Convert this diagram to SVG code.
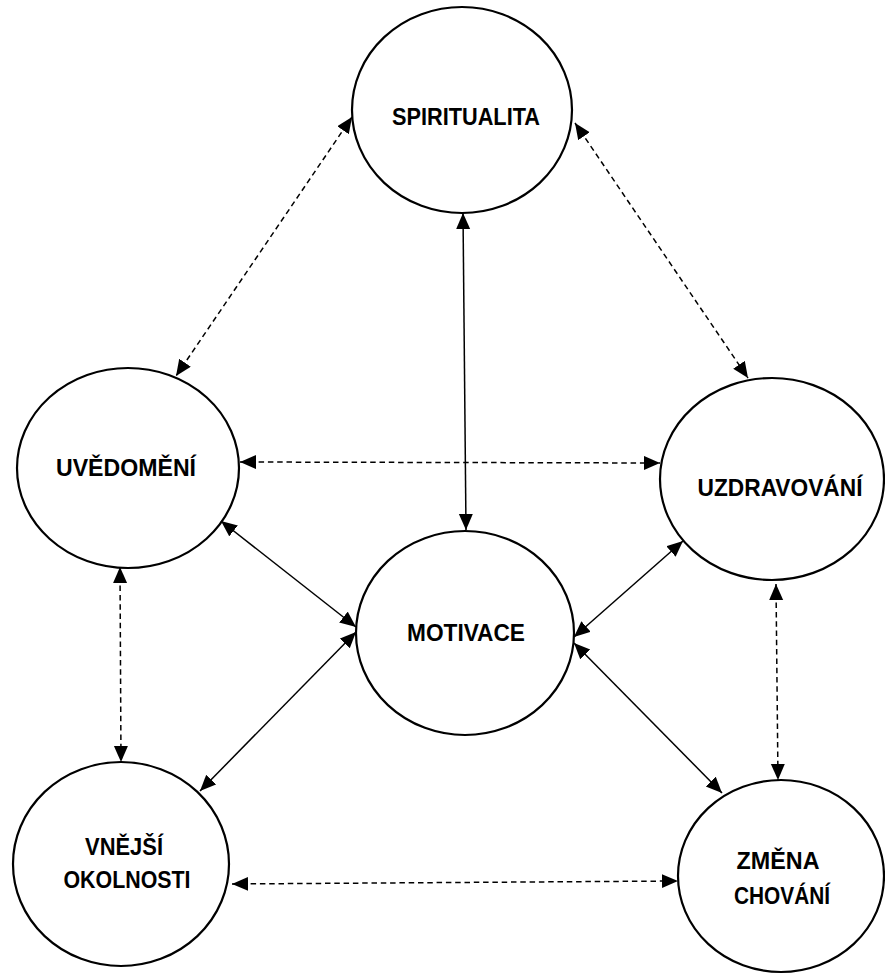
<svg xmlns="http://www.w3.org/2000/svg" width="885" height="974" viewBox="0 0 885 974">
<style>
.node{fill:#fff;stroke:#000;stroke-width:2.2}
.lbl{font-family:"Liberation Sans",Arial,sans-serif;font-weight:bold;font-size:23.5px;fill:#000;text-anchor:middle}
.c{fill:none;stroke:#000;stroke-width:1.5;marker-start:url(#ah);marker-end:url(#ah)}
.d{stroke-dasharray:5.5 3.8}
</style>
<defs>
<marker id="ah" markerUnits="userSpaceOnUse" markerWidth="17" markerHeight="15" refX="16" refY="7" orient="auto-start-reverse" viewBox="0 0 17 15">
<path d="M0,0 L16,7 L0,14 Z" fill="#000"/>
</marker>
</defs>
<rect width="885" height="974" fill="#fff"/>
<g id="n-spiritualita"><ellipse class="node" cx="462" cy="110" rx="110" ry="103"/><text class="lbl" x="466" y="125" textLength="148" lengthAdjust="spacingAndGlyphs">SPIRITUALITA</text></g>
<g id="n-uvedomeni"><ellipse class="node" cx="128" cy="468" rx="111" ry="100"/><text class="lbl" x="126" y="476" textLength="140" lengthAdjust="spacingAndGlyphs">UVĚDOMĚNÍ</text></g>
<g id="n-uzdravovani"><ellipse class="node" cx="772" cy="479" rx="112" ry="101"/><text class="lbl" x="780" y="496" textLength="165" lengthAdjust="spacingAndGlyphs">UZDRAVOVÁNÍ</text></g>
<g id="n-motivace"><ellipse class="node" cx="465" cy="633" rx="109" ry="102"/><text class="lbl" x="466" y="641" textLength="118" lengthAdjust="spacingAndGlyphs">MOTIVACE</text></g>
<g id="n-vnejsi"><ellipse class="node" cx="121" cy="864" rx="108" ry="102"/><text class="lbl" x="124" y="855" textLength="78" lengthAdjust="spacingAndGlyphs">VNĚJŠÍ</text><text class="lbl" x="127" y="888" textLength="127" lengthAdjust="spacingAndGlyphs">OKOLNOSTI</text></g>
<g id="n-zmena"><ellipse class="node" cx="781" cy="876" rx="103" ry="96"/><text class="lbl" x="778" y="869" textLength="83" lengthAdjust="spacingAndGlyphs">ZMĚNA</text><text class="lbl" x="782" y="904" textLength="96" lengthAdjust="spacingAndGlyphs">CHOVÁNÍ</text></g>
<g id="connectors">
<line class="c d" x1="352" y1="117" x2="176" y2="376"/>
<line class="c d" x1="575" y1="123" x2="748" y2="378"/>
<line class="c" x1="463" y1="213" x2="466" y2="530"/>
<line class="c d" x1="240" y1="462" x2="660" y2="463"/>
<line class="c" x1="221" y1="521" x2="356" y2="627"/>
<line class="c" x1="356" y1="632" x2="200" y2="791"/>
<line class="c d" x1="120" y1="567" x2="121" y2="762"/>
<line class="c" x1="683" y1="541" x2="574" y2="637"/>
<line class="c" x1="574" y1="643" x2="722" y2="793"/>
<line class="c d" x1="776" y1="584" x2="778" y2="780"/>
<line class="c d" x1="232" y1="884" x2="678" y2="881"/>
</g>
</svg>
